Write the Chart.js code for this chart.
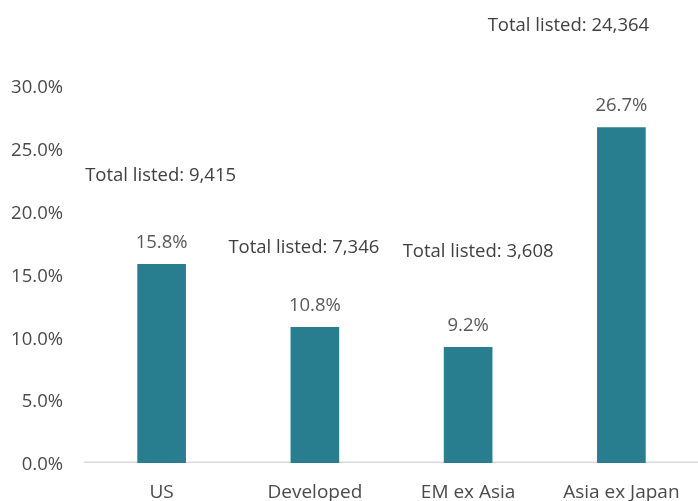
<!DOCTYPE html>
<html>
<head>
<meta charset="utf-8">
<script src="https://cdn.jsdelivr.net/npm/chart.js@4"></script>
<style>
  html, body { margin: 0; padding: 0; background: #ffffff; }
  #wrap { width: 698px; height: 501px; }
</style>
</head>
<body>
<div id="wrap"><canvas id="c" width="698" height="501"></canvas></div>
<script>
// ---- data ----
const categories = ['US', 'Developed', 'EM ex Asia', 'Asia ex Japan'];
const shareValues = [15.8, 10.8, 9.2, 26.7];
const totalListed = ['9,415', '7,346', '3,608', '24,364'];
const yTicks = [0, 5, 10, 15, 20, 25, 30];

// ---- styling (not data) ----
const FONT = '"Open Sans", "Noto Sans", sans-serif';
const BAR_COLOR = '#287E8F';
// offsets of the "Total listed" callouts relative to each bar's top centre (px)
const totalOffsets = [[-1, -89], [-11, -80], [10, -96], [-53, -102]];

const labelPlugin = {
  id: 'labels',
  beforeDatasetsDraw(chart) {
    const ctx = chart.ctx;
    const area = chart.chartArea;
    const y0 = chart.scales.y.getPixelForValue(0);
    ctx.save();
    ctx.strokeStyle = '#d9d9d9';
    ctx.lineWidth = 1.5;
    ctx.beginPath();
    ctx.moveTo(area.left - 1, y0 - 0.75);
    ctx.lineTo(chart.width, y0 - 0.75);
    ctx.stroke();
    ctx.restore();
  },
  afterDatasetsDraw(chart) {
    const ctx = chart.ctx;
    const meta = chart.getDatasetMeta(0);
    ctx.save();
    ctx.textAlign = 'center';
    ctx.textBaseline = 'middle';
    meta.data.forEach((bar, i) => {
      ctx.font = '18.5px ' + FONT;
      ctx.fillStyle = '#595959';
      ctx.fillText(shareValues[i].toFixed(1) + '%', bar.x, bar.y - 22);
      ctx.fillStyle = '#404040';
      ctx.fillText('Total listed: ' + totalListed[i], bar.x + totalOffsets[i][0], bar.y + totalOffsets[i][1]);
    });
    ctx.restore();
  }
};

new Chart(document.getElementById('c'), {
  type: 'bar',
  data: {
    labels: categories,
    datasets: [{
      data: shareValues,
      backgroundColor: BAR_COLOR,
      barThickness: 48
    }]
  },
  options: {
    responsive: false,
    animation: false,
    events: [],
    layout: { padding: { left: 0, right: -5, top: 86, bottom: 0 } },
    plugins: { legend: { display: false }, tooltip: { enabled: false } },
    scales: {
      x: {
        grid: { display: false },
        border: { display: false },
        ticks: { color: '#4a4a4a', font: { family: FONT, size: 19 }, padding: 10, maxRotation: 0, autoSkip: false },
        afterFit(s) { s.height = 38; }
      },
      y: {
        min: 0, max: 30,
        afterBuildTicks(s) { s.ticks = yTicks.map(v => ({ value: v })); },
        grid: { display: false },
        border: { display: false },
        ticks: {
          color: '#4a4a4a',
          font: { family: FONT, size: 18.5 },
          padding: 14,
          labelOffset: 2,
          callback: v => v.toFixed(1) + '%'
        },
        afterFit(s) { s.width = 85; }
      }
    }
  },
  plugins: [labelPlugin]
});
</script>
</body>
</html>
